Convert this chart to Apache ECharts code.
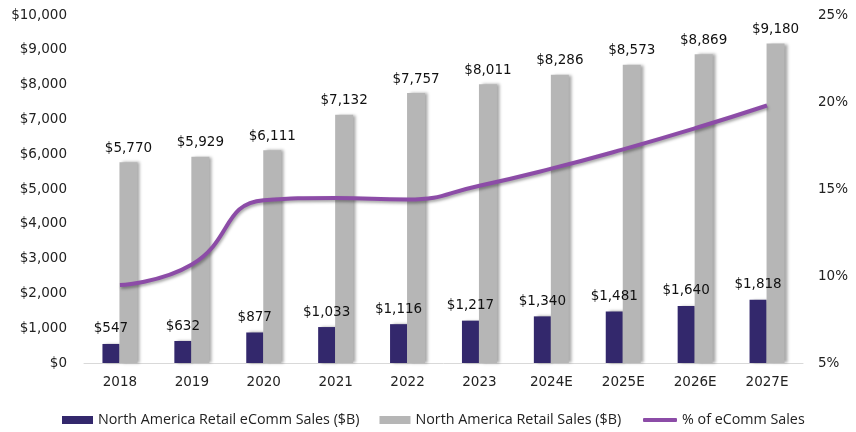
<!DOCTYPE html>
<html><head><meta charset="utf-8">
<script src="https://cdn.jsdelivr.net/npm/echarts@6/dist/echarts.min.js"></script>
<style>html,body{margin:0;padding:0;background:#fff}#c{width:856px;height:432px}</style>
</head><body><div id="c"></div>
<script>
const categories = ['2018','2019','2020','2021','2022','2023','2024E','2025E','2026E','2027E'];
const ecommSales = [547,632,877,1033,1116,1217,1340,1481,1640,1818];
const retailSales = [5770,5929,6111,7132,7757,8011,8286,8573,8869,9180];
const ecommShare = [9.48,10.66,14.35,14.48,14.39,15.19,16.17,17.28,18.49,19.80];
const seriesNames = ['North America Retail eComm Sales ($B)','North America Retail Sales ($B)','% of eComm Sales'];

const fmt = v => '$' + v.toLocaleString('en-US');
const chart = echarts.init(document.getElementById('c'), null, {renderer:'canvas'});
const axFont = {fontFamily:'DejaVu Sans', fontSize:13.5, color:'#222'};
const legFont = {fontFamily:'Open Sans', fontSize:14.3, color:'#222'};
chart.setOption({
  animation:false,
  backgroundColor:'#fff',
  grid:{left:84, right:53, top:15, bottom:69},
  legend:[
    {top:408, left:57, itemWidth:31, itemHeight:8, itemGap:20, textStyle:legFont,
     data:[{name:seriesNames[0], icon:'rect'},{name:seriesNames[1], icon:'rect'}]},
    {top:408, left:638, itemWidth:34, itemHeight:4, itemGap:20, textStyle:legFont,
     data:[{name:seriesNames[2], icon:'roundRect'}]}
  ],
  xAxis:{type:'category', data:categories,
    axisLine:{lineStyle:{color:'#d9d9d9'}}, axisTick:{show:false},
    axisLabel:Object.assign({margin:12}, axFont)},
  yAxis:[
    {type:'value', min:0, max:10000, interval:1000, splitLine:{show:false},
     axisLabel:Object.assign({formatter:v=>fmt(v), margin:17}, axFont)},
    {type:'value', min:5, max:25, interval:5, splitLine:{show:false},
     axisLabel:Object.assign({formatter:'{value}%', margin:15}, axFont)}
  ],
  series:[
    {name:seriesNames[0], type:'bar', data:ecommSales, barWidth:17, barGap:'0%',
     itemStyle:{color:'#33286c', shadowColor:'rgba(0,0,0,0.35)', shadowBlur:3, shadowOffsetX:3},
     label:{show:true, position:'top', distance:8, formatter:p=>fmt(p.value), fontFamily:'DejaVu Sans', fontSize:13.5, color:'#111'}},
    {name:seriesNames[1], type:'bar', data:retailSales, barWidth:18,
     itemStyle:{color:'#b6b6b6', shadowColor:'rgba(0,0,0,0.35)', shadowBlur:3, shadowOffsetX:3},
     label:{show:true, position:'top', distance:7, formatter:p=>fmt(p.value), fontFamily:'DejaVu Sans', fontSize:13.5, color:'#111'}},
    {name:seriesNames[2], type:'line', yAxisIndex:1, data:ecommShare, smooth:0.5, symbol:'none',
     lineStyle:{width:4, color:'#8c4ca7', shadowColor:'rgba(0,0,0,0.35)', shadowBlur:3, shadowOffsetY:2, shadowOffsetX:1},
     itemStyle:{color:'#8c4ca7'}}
  ]
});
</script></body></html>
